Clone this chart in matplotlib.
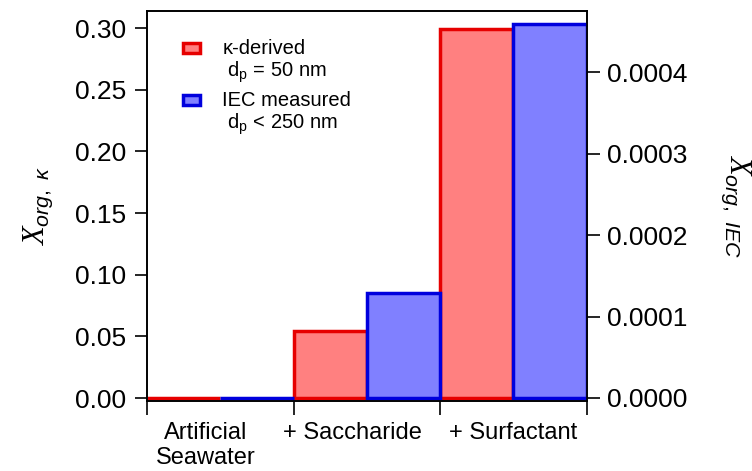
import matplotlib
matplotlib.use("Agg")
import matplotlib.pyplot as plt
from matplotlib.patches import Rectangle
from matplotlib.transforms import ScaledTranslation
import numpy as np

plt.rcParams["font.family"] = ["Liberation Sans", "DejaVu Sans"]
plt.rcParams["mathtext.fontset"] = "custom"
plt.rcParams["mathtext.rm"] = "Liberation Sans"
plt.rcParams["mathtext.it"] = "Liberation Sans:italic"
plt.rcParams["mathtext.sf"] = "Liberation Serif:italic"

categories = ["Artificial\nSeawater", "+ Saccharide", "+ Surfactant"]
x_kappa = [0.0, 0.054, 0.299]          # left axis
x_iec = [0.0, 0.000129, 0.000459]      # right axis

red_edge, red_fill = "#e60000", "#ff8080"
blue_edge, blue_fill = "#0000dd", "#8080ff"

fig = plt.figure(figsize=(7.52, 4.71), dpi=100)
ax = fig.add_axes([0.1955, 0.1486, 0.5845, 0.828])
ax2 = ax.twinx()

pos = np.arange(len(categories))
ax.bar(pos - 0.25, x_kappa, width=0.5, color=red_fill, edgecolor=red_edge, linewidth=2.5, zorder=2)
ax2.bar(pos + 0.25, x_iec, width=0.5, color=blue_fill, edgecolor=blue_edge, linewidth=2.5, zorder=2)

ax.set_xlim(-0.5, 2.5)
ax.set_ylim(-0.0024, 0.3138)
ax2.set_ylim(-0.0000037, 0.000475)

ax.set_yticks([0, 0.05, 0.10, 0.15, 0.20, 0.25, 0.30])
ax.set_yticklabels(["0.00", "0.05", "0.10", "0.15", "0.20", "0.25", "0.30"])
ax2.set_yticks([0, 0.0001, 0.0002, 0.0003, 0.0004])
ax2.set_yticklabels(["0.0000", "0.0001", "0.0002", "0.0003", "0.0004"])

ax.set_xticks([-0.5, 0.5, 1.5, 2.5])
ax.set_xticklabels([])
ax.set_xticks(pos, minor=True)
ax.set_xticklabels(categories, minor=True, fontsize=17, linespacing=1.2)
ax.tick_params(axis="x", which="major", direction="out", length=10, width=1.2)
ax.tick_params(axis="x", which="minor", length=0, pad=15)
ax.tick_params(axis="y", direction="out", length=9, width=1.2, labelsize=19, pad=6)
ax2.tick_params(axis="y", direction="out", length=9, width=1.2, labelsize=19, pad=6)

# the first two category labels sit a bit left of centre in the original
shifts = [-0.15, -0.14, 0.0]
for lab, dx in zip(ax.get_xticklabels(minor=True), shifts):
    lab.set_transform(lab.get_transform() + ScaledTranslation(dx, 0, fig.dpi_scale_trans))

for a in (ax, ax2):
    for s in a.spines.values():
        s.set_linewidth(1.2)

ax.set_ylabel(r"$\mathsf{X}_{org,\ \kappa}$", fontsize=22, labelpad=14)
ax2.set_ylabel(r"$\mathsf{X}_{org,\ IEC}$", fontsize=22, rotation=-90, labelpad=46)

# legend drawn by hand so the swatch sits on the first text line
legend_items = [(red_fill, red_edge, "κ-derived", " d$_\\mathrm{p}$ = 50 nm"),
                (blue_fill, blue_edge, "IEC measured", " d$_\\mathrm{p}$ < 250 nm")]
for i, (fc, ec, line1, line2) in enumerate(legend_items):
    yc = 0.905 - i * 0.134
    ax.add_patch(Rectangle((0.083, yc - 0.013), 0.037, 0.026, transform=ax.transAxes,
                           facecolor=fc, edgecolor=ec, linewidth=2.5, zorder=5))
    ax.text(0.171, yc, line1, transform=ax.transAxes, fontsize=14.5, va="center", ha="left")
    ax.text(0.171, yc - 0.062, line2, transform=ax.transAxes, fontsize=14.5, va="center", ha="left")

fig.savefig("out.png", dpi=100)
